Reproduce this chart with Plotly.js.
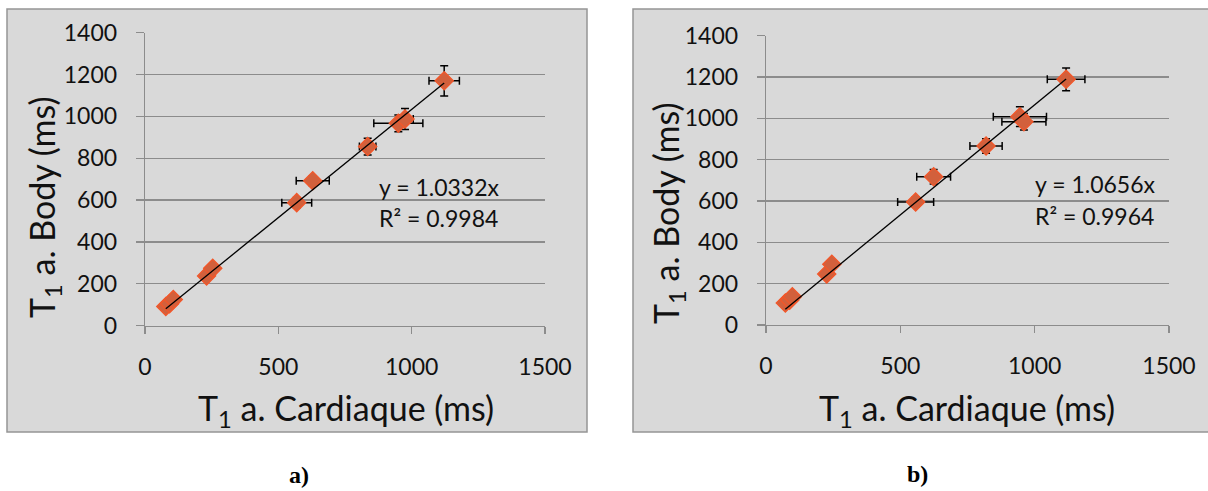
<!DOCTYPE html>
<html>
<head>
<meta charset="utf-8">
<script src="https://cdn.plot.ly/plotly-3.0.1.min.js"></script>
<style>html,body{margin:0;padding:0;background:#fff;}#chart{width:1208px;height:491px;}</style>
</head>
<body>
<div id="chart"></div>
<script>
// ---- Data: panel a) ----
const cardiacA = [78, 92, 106, 231, 254, 569, 629, 835, 950, 975, 1122];
const bodyA    = [92, 105, 125, 238, 274, 588, 693, 856, 967, 988, 1170];
const errCardiacA = [8, 8, 8, 10, 10, 56, 62, 31, 92, 31, 57];
const errBodyA    = [8, 8, 8, 12, 12, 24, 24, 40, 40, 50, 72];
const slopeA = 1.0332;
const eqA = "y = 1.0332x";
const r2A = "R² = 0.9984";

// ---- Data: panel b) ----
const cardiacB = [72, 88, 98, 226, 245, 557, 624, 819, 945, 960, 1117];
const bodyB    = [106, 120, 137, 247, 294, 595, 717, 866, 1008, 984, 1189];
const errCardiacB = [8, 8, 8, 10, 10, 67, 63, 60, 99, 82, 70];
const errBodyB    = [8, 8, 8, 12, 12, 24, 35, 35, 48, 40, 55];
const slopeB = 1.0656;
const eqB = "y = 1.0656x";
const r2B = "R² = 0.9964";

const xTickVals = [0, 500, 1000, 1500];
const yTickVals = [0, 200, 400, 600, 800, 1000, 1200, 1400];
const xTitle = "T<sub>1</sub> a. Cardiaque (ms)";
const yTitle = "T<sub>1</sub> a. Body (ms)";
const panelLabels = ["a)", "b)"];

// ---- helpers ----
const W = 1208, H = 491;
const px = v => v / W;
const py = v => 1 - v / H;

const markerStyle = {symbol: 'diamond', size: 14, color: '#D2603C', line: {color: '#F2572A', width: 1.3}};
function errStyle(arr) { return {type: 'data', array: arr, visible: true, color: '#000', thickness: 1.5, width: 4}; }

function pointsTrace(x, y, ex, ey, xa, ya) {
  return {x: x, y: y, type: 'scatter', mode: 'markers', xaxis: xa, yaxis: ya,
    marker: markerStyle, error_x: errStyle(ex), error_y: errStyle(ey), hoverinfo: 'x+y', showlegend: false};
}
function trendTrace(x, slope, xa, ya) {
  const x0 = Math.min.apply(null, x), x1 = Math.max.apply(null, x);
  return {x: [x0, x1], y: [slope * x0, slope * x1], type: 'scatter', mode: 'lines', xaxis: xa, yaxis: ya,
    line: {color: '#000', width: 1.3}, hoverinfo: 'skip', showlegend: false};
}

const data = [
  pointsTrace(cardiacA, bodyA, errCardiacA, errBodyA, 'x', 'y'),
  trendTrace(cardiacA, slopeA, 'x', 'y'),
  pointsTrace(cardiacB, bodyB, errCardiacB, errBodyB, 'x2', 'y2'),
  trendTrace(cardiacB, slopeB, 'x2', 'y2')
];

const tickFont = {family: 'Lato, "Open Sans", sans-serif', size: 23, color: '#111'};
const axisCommon = {showline: true, linecolor: '#8C8C8C', linewidth: 1.3, ticks: 'outside', tickcolor: '#8C8C8C',
  tickwidth: 1.3, zeroline: false, tickfont: tickFont, fixedrange: true};

function xAxis(domain, anchor) {
  return Object.assign({}, axisCommon, {domain: domain, anchor: anchor, range: [0, 1500], tickmode: 'array',
    tickvals: xTickVals, ticktext: xTickVals.map(String), showgrid: false, ticklen: 7, ticklabelstandoff: 13});
}
function yAxis(domain, anchor) {
  return Object.assign({}, axisCommon, {domain: domain, anchor: anchor, range: [0, 1400], tickmode: 'array',
    tickvals: yTickVals, ticktext: yTickVals.map(String), showgrid: true, gridcolor: '#8C8C8C', gridwidth: 1.3,
    ticklen: 8, ticklabelstandoff: 14});
}

const titleFont = {family: 'Lato, "Open Sans", sans-serif', size: 34, color: '#111'};
const eqFont = {family: 'Lato, "Open Sans", sans-serif', size: 23, color: '#111'};
const labelFont = {family: '"Liberation Serif", "Times New Roman", serif', size: 24, color: '#000'};

function ann(text, x, y, font, opts) {
  return Object.assign({text: text, x: px(x), y: py(y), xref: 'paper', yref: 'paper', showarrow: false,
    font: font, xanchor: 'center', yanchor: 'middle'}, opts || {});
}

const layout = {
  width: W, height: H, margin: {l: 0, r: 0, t: 0, b: 0},
  paper_bgcolor: '#fff', plot_bgcolor: '#fff', showlegend: false,
  xaxis: xAxis([px(145), px(545)], 'y'),
  yaxis: yAxis([py(325.7), py(32.7)], 'x'),
  xaxis2: xAxis([px(766), px(1169)], 'y2'),
  yaxis2: yAxis([py(325), py(35.7)], 'x2'),
  shapes: [
    {type: 'rect', xref: 'paper', yref: 'paper', x0: px(7), x1: px(587), y0: py(432), y1: py(9),
      fillcolor: '#D9D9D9', line: {color: '#959595', width: 1.5}, layer: 'below'},
    {type: 'rect', xref: 'paper', yref: 'paper', x0: px(633), x1: px(1215), y0: py(432), y1: py(9),
      fillcolor: '#D9D9D9', line: {color: '#959595', width: 1.5}, layer: 'below'}
  ],
  annotations: [
    ann(xTitle, 346, 410, titleFont),
    ann(yTitle, 44, 207, titleFont, {textangle: -90}),
    ann(xTitle, 967, 410, titleFont),
    ann(yTitle, 668, 213, titleFont, {textangle: -90}),
    ann(eqA, 377, 187, eqFont, {xanchor: 'left'}),
    ann(r2A, 377, 218, eqFont, {xanchor: 'left'}),
    ann(eqB, 1033, 184, eqFont, {xanchor: 'left'}),
    ann(r2B, 1033, 216, eqFont, {xanchor: 'left'}),
    ann('<b>' + panelLabels[0] + '</b>', 299, 475, labelFont),
    ann('<b>' + panelLabels[1] + '</b>', 917, 474, labelFont)
  ]
};

Plotly.newPlot('chart', data, layout, {displayModeBar: false, staticPlot: true});
</script>
</body>
</html>
